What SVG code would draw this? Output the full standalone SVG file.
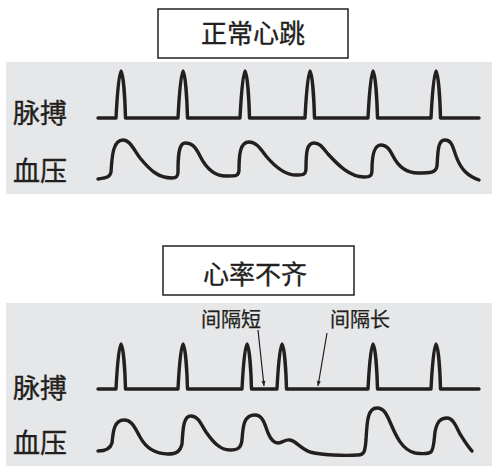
<svg xmlns="http://www.w3.org/2000/svg" width="492" height="466" viewBox="0 0 492 466">
<style>
.panel{fill:#e6e7e8}
.box{fill:#fff;stroke:#231f20;stroke-width:1.5}
.wave{fill:none;stroke:#231f20;stroke-width:3.4;stroke-linejoin:round;stroke-linecap:round}
.t{font-family:"Noto Sans CJK SC","Noto Sans CJK JP",sans-serif;fill:#231f20;stroke:#231f20;stroke-width:0.35;font-weight:400}
.title{font-size:26px;text-anchor:middle}
.lab{font-size:27px}
.note{font-size:20px;text-anchor:middle;stroke-width:0.25}
.arr{stroke:#231f20;stroke-width:1.2;fill:none}
</style>
<defs>
<marker id="ah" viewBox="0 0 10 10" refX="10" refY="5" markerWidth="10" markerHeight="5" markerUnits="userSpaceOnUse" orient="auto">
<path d="M0,1 L10,5 L0,9 Z" fill="#231f20"/>
</marker>
</defs>
<g id="panel-normal"><rect class="panel" x="6" y="62" width="486" height="132"/></g>
<g id="panel-irregular"><rect class="panel" x="6" y="303" width="486" height="163"/></g>
<g id="title-normal"><rect class="box" x="158" y="9" width="190" height="49"/><text class="t title" x="253" y="43">正常心跳</text></g>
<g id="title-irregular"><rect class="box" x="163" y="246" width="191" height="49"/><text class="t title" x="255" y="284">心率不齐</text></g>
<g id="labels-normal"><text class="t lab" x="13" y="123">脉搏</text><text class="t lab" x="13" y="181">血压</text></g>
<g id="labels-irregular"><text class="t lab" x="13" y="398">脉搏</text><text class="t lab" x="13" y="453">血压</text></g>
<g id="note-short"><text class="t note" x="231" y="327">间隔短</text></g>
<g id="note-long"><text class="t note" x="360" y="327">间隔长</text></g>
<g id="connectors">
<path class="wave" d="M98,118 L116,118 C117,98 119,71 121,71 C123,71 125,98 125.5,118 L178,118 C179,98 181,71 183,71 C185,71 187,98 187.5,118 L240,118 C241,98 243,71 245,71 C247,71 249,98 249.5,118 L305,118 C306,98 308,71 310,71 C312,71 314,98 314.5,118 L368,118 C369,98 371,71 373,71 C375,71 377,98 377.5,118 L431,118 C432,98 434,71 436,71 C438,71 440,98 440.5,118 L479,118"/>
<path class="wave" d="M98,179 C104,178 110,178 111,172 C112,160 112,140 123,140 C130,140 134,150 140,158 C150,170 158,178 172,178 C176,178 178,177 178,172 C178,160 178,143 185,143 C193,143 196,148 200,156 C206,168 214,177 228,176 C236,176 239,176 239,170 C239,155 240,142 249,142 C256,142 260,148 266,156 C276,168 286,176 298,175 C304,175 306,174 306,168 C306,152 307,143 314,143 C320,143 323,148 328,154 C338,165 350,177 364,177 C370,177 372,176 372,170 C372,155 374,145 381,145 C387,145 390,150 393,156 C398,166 405,173 418,173 C430,173 436,173 437,166 C438,150 438,140 445,140 C452,140 453,148 456,156 C461,170 468,176 479,180"/>
<path class="wave" d="M98,389 L116,389 C117,369 119,344 121,344 C123,344 125,369 125.5,389 L178,389 C179,369 181,344 183,344 C185,344 187,369 187.5,389 L242,389 C243,369 245,344 247,344 C249,344 251,369 251.5,389 L277,389 C278,369 280,344 282,344 C284,344 286,369 286.5,389 L368,389 C369,369 371,344 373,344 C375,344 377,369 377.5,389 L431,389 C432,369 434,344 436,344 C438,344 440,369 440.5,389 L479,389"/>
<path class="wave" d="M98,451 C104,451 110,450 112,443 C113,435 113,420 124,420 C132,420 135,428 140,437 C146,448 156,454 168,454 C176,454 180,452 182,444 C183,430 183,416 191,416 C198,416 201,424 206,432 C213,442 220,450 230,450 C238,450 241,448 242,440 C243,425 244,415 255,415 C263,415 265,425 268,433 C271,440 274,443 278,443 C283,443 285,439 290,440 C296,441 300,448 310,452 C320,455 345,456 358,455 C364,455 365,452 366,440 C367,420 368,408 377,408 C384,408 387,415 390,422 C396,436 402,450 415,453 C422,454 428,454 431,452 C434,449 434,440 435,432 C437,422 440,418 447,418 C453,418 456,426 460,434 C465,442 468,447 472,451"/>
<line class="arr" x1="258" y1="330" x2="264" y2="386" marker-end="url(#ah)"/>
<line class="arr" x1="327" y1="333" x2="318" y2="386" marker-end="url(#ah)"/>
</g>
</svg>
